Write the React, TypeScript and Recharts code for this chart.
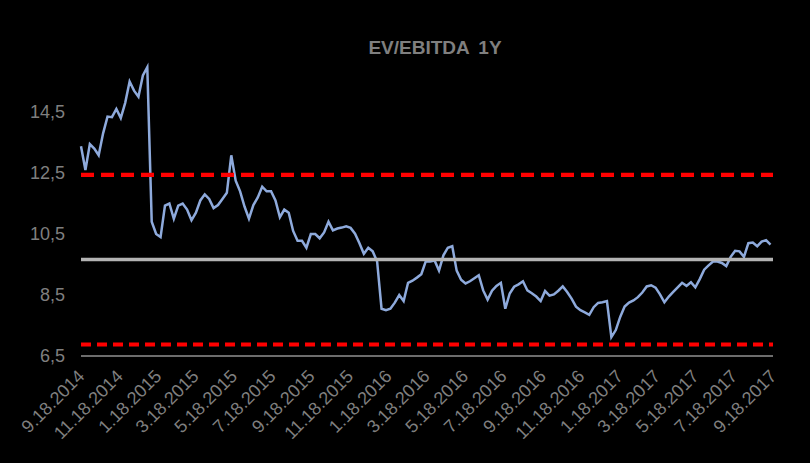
import React from "react";
import { Line, LineChart, ReferenceLine, XAxis, YAxis } from "recharts";

// weekly EV/EBITDA 1Y readings, starting 9.18.2014
const startDate = "2014-09-18";
const evEbitda = [
  13.38, 12.6, 13.45, 13.3, 13.08, 13.8, 14.35, 14.33, 14.6, 14.3,
  14.8, 15.5, 15.2, 15.0, 15.7, 15.97, 10.9, 10.5, 10.4, 11.43,
  11.5, 11.0, 11.43, 11.5, 11.3, 10.95, 11.2, 11.6, 11.8, 11.65,
  11.35, 11.45, 11.65, 11.85, 13.08, 12.25, 11.9, 11.4, 11.0, 11.45,
  11.7, 12.05, 11.9, 11.9, 11.6, 11.05, 11.3, 11.2, 10.6, 10.28,
  10.28, 10.05, 10.5, 10.5, 10.36, 10.55, 10.9, 10.62, 10.68, 10.71,
  10.75, 10.7, 10.51, 10.2, 9.85, 10.05, 9.93, 9.6, 8.05, 8.0,
  8.05, 8.25, 8.5, 8.3, 8.9, 8.97, 9.07, 9.18, 9.6, 9.6,
  9.63, 9.3, 9.8, 10.05, 10.1, 9.3, 9.0, 8.88, 8.95, 9.05,
  9.15, 8.65, 8.35, 8.64, 8.8, 8.9, 8.05, 8.55, 8.77, 8.85,
  8.95, 8.65, 8.56, 8.45, 8.3, 8.63, 8.48, 8.52, 8.64, 8.78,
  8.6, 8.38, 8.12, 8.0, 7.93, 7.85, 8.1, 8.24, 8.26, 8.3,
  7.12, 7.35, 7.78, 8.12, 8.25, 8.32, 8.43, 8.58, 8.78, 8.82,
  8.74, 8.52, 8.26, 8.45, 8.6, 8.75, 8.9, 8.8, 8.92, 8.75,
  9.02, 9.33, 9.47, 9.6, 9.6, 9.55, 9.45, 9.75, 9.95, 9.93,
  9.75, 10.2, 10.22, 10.1, 10.25, 10.3, 10.15,
];

const meanLevel = 9.66;
const upperBand = 12.44;
const lowerBand = 6.88;

const tickLabels = [
  "9.18.2014", "11.18.2014", "1.18.2015", "3.18.2015", "5.18.2015",
  "7.18.2015", "9.18.2015", "11.18.2015", "1.18.2016", "3.18.2016",
  "5.18.2016", "7.18.2016", "9.18.2016", "11.18.2016", "1.18.2017",
  "3.18.2017", "5.18.2017", "7.18.2017", "9.18.2017",
];
const yTicks = [6.5, 8.5, 10.5, 12.5, 14.5];

const DAY = 86400000;
const t0 = Date.parse(startDate);
const toDay = (s: string) => {
  const [m, d, y] = s.split(".").map(Number);
  return Math.round((Date.UTC(y, m - 1, d) - t0) / DAY);
};
const tickDays = tickLabels.map(toDay);

const data = evEbitda.map((v, i) => ({ day: i * 7, v }));

const GREY = "#7f7f7f";

const DateTick = (props: any) => {
  const { x, y, payload } = props;
  const label = tickLabels[tickDays.indexOf(payload.value)];
  return (
    <g transform={`translate(${x},${y})`}>
      <text
        x={0}
        y={0}
        dy="0.35em"
        textAnchor="end"
        transform="rotate(-45)"
        fill={GREY}
        fontSize={18}
      >
        {label}
      </text>
    </g>
  );
};

export default function App() {
  return (
    <div
      style={{
        position: "fixed",
        left: 0,
        top: 0,
        width: 810,
        height: 463,
        background: "#000",
        fontFamily: "'Liberation Sans', Arial, sans-serif",
      }}
    >
      <div
        style={{
          position: "absolute",
          top: 37,
          left: 0,
          width: 870,
          textAlign: "center",
          color: GREY,
          fontWeight: "bold",
          fontSize: 19,
          wordSpacing: 4,
        }}
      >
        EV/EBITDA 1Y
      </div>
      <LineChart
        width={810}
        height={463}
        data={data}
        margin={{ top: 51, right: 37, left: 0, bottom: 0 }}
      >
        <XAxis
          dataKey="day"
          type="number"
          domain={[0, 1096]}
          ticks={tickDays}
          interval={0}
          height={107}
          axisLine={{ stroke: "#d9d9d9", strokeWidth: 1 }}
          tickLine={false}
          tickSize={6}
          tickMargin={11}
          tick={<DateTick />}
        />
        <YAxis
          domain={[6.5, 16.5]}
          ticks={yTicks}
          width={81}
          axisLine={false}
          tickLine={false}
          tickSize={6}
          tickMargin={10}
          tick={{ fill: GREY, fontSize: 18 }}
          tickFormatter={(v: number) => String(v).replace(".", ",")}
        />
        <Line
          type="linear"
          dataKey="v"
          stroke="#8eaadc"
          strokeWidth={2.5}
          dot={false}
          isAnimationActive={false}
        />
        <ReferenceLine y={meanLevel} stroke="#b3b3b3" strokeWidth={3.5} />
        <ReferenceLine
          y={upperBand}
          stroke="#ff0000"
          strokeWidth={4.3}
          strokeDasharray="13 7"
        />
        <ReferenceLine
          y={lowerBand}
          stroke="#ff0000"
          strokeWidth={4}
          strokeDasharray="10 6"
        />
      </LineChart>
    </div>
  );
}
